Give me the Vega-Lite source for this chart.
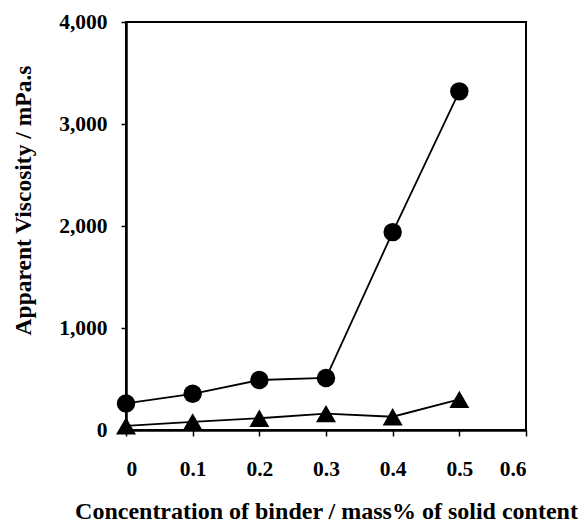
{
  "$schema": "https://vega.github.io/schema/vega-lite/v6.json",
  "width": 400,
  "height": 408,
  "autosize": {"type": "none"},
  "padding": {"left": 126, "top": 22, "right": 52, "bottom": 95},
  "background": "white",
  "config": {
    "view": {"stroke": "black", "strokeWidth": 2},
    "font": "Liberation Serif",
    "axis": {
      "grid": false,
      "domainColor": "black",
      "domainWidth": 2.5,
      "tickColor": "black",
      "tickWidth": 1.5,
      "labelFont": "Liberation Serif",
      "labelFontWeight": "bold",
      "labelFontSize": 21.5,
      "labelColor": "black",
      "titleFont": "Liberation Serif",
      "titleFontWeight": "bold",
      "titleFontSize": 23.5,
      "titleColor": "black"
    }
  },
  "data": {
    "values": [
      {"x": 0, "y": 260, "s": "A"},
      {"x": 0.1, "y": 355, "s": "A"},
      {"x": 0.2, "y": 490, "s": "A"},
      {"x": 0.3, "y": 510, "s": "A"},
      {"x": 0.4, "y": 1940, "s": "A"},
      {"x": 0.5, "y": 3320, "s": "A"},
      {"x": 0, "y": 40, "s": "B"},
      {"x": 0.1, "y": 80, "s": "B"},
      {"x": 0.2, "y": 115, "s": "B"},
      {"x": 0.3, "y": 160, "s": "B"},
      {"x": 0.4, "y": 130, "s": "B"},
      {"x": 0.5, "y": 300, "s": "B"}
    ]
  },
  "encoding": {
    "x": {
      "field": "x", "type": "quantitative",
      "scale": {"domain": [0, 0.6], "nice": false},
      "axis": {
        "values": [0, 0.1, 0.2, 0.3, 0.4, 0.5, 0.6],
        "labelExpr": "datum.value == 0 ? '0' : format(datum.value, '.1f')",
        "tickSize": 6, "labelPadding": 22,
        "title": "Concentration of binder / mass% of solid content",
        "titleFontSize": 24,
        "titlePadding": 20
      }
    },
    "y": {
      "field": "y", "type": "quantitative",
      "scale": {"domain": [0, 4000], "nice": false},
      "axis": {
        "values": [0, 1000, 2000, 3000, 4000],
        "format": ",d",
        "tickSize": 5, "labelPadding": 14,
        "title": "Apparent Viscosity / mPa.s",
        "titleY": 178,
        "titlePadding": 23
      }
    },
    "detail": {"field": "s"}
  },
  "layer": [
    {"mark": {"type": "line", "color": "black", "strokeWidth": 1.8}},
    {
      "mark": {"type": "point", "filled": true, "color": "black", "opacity": 1},
      "encoding": {
        "shape": {
          "field": "s", "type": "nominal",
          "scale": {"domain": ["A", "B"], "range": ["circle", "triangle-up"]},
          "legend": null
        },
        "size": {
          "field": "s", "type": "nominal",
          "scale": {"domain": ["A", "B"], "range": [340, 400]},
          "legend": null
        }
      }
    }
  ]
}
